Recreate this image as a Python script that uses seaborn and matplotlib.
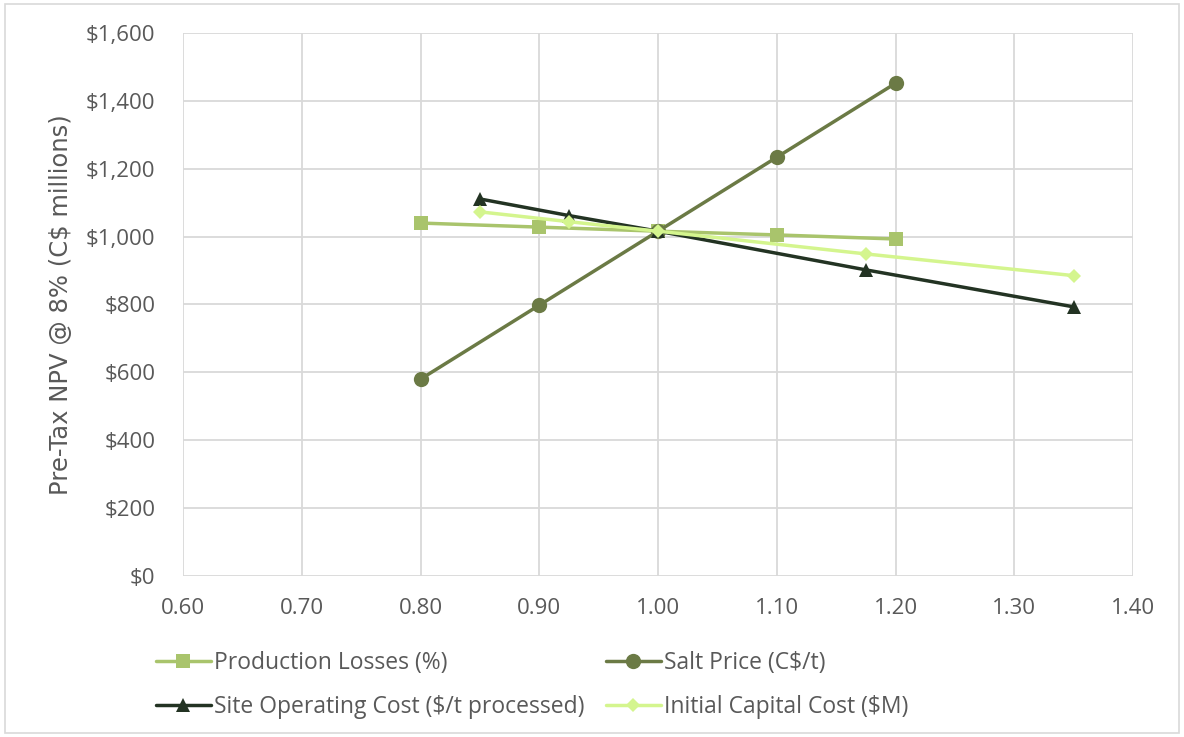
import matplotlib
matplotlib.use("Agg")
import matplotlib.pyplot as plt
import seaborn as sns
import pandas as pd
from matplotlib.ticker import FuncFormatter, MultipleLocator
from matplotlib.patches import Rectangle

# Sensitivity factors and pre-tax NPV (C$ millions) for each driver
prod_x = [0.80, 0.90, 1.00, 1.10, 1.20]
prod_y = [1040, 1028, 1016, 1005, 993]

salt_x = [0.80, 0.90, 1.00, 1.10, 1.20]
salt_y = [580, 798, 1016, 1234, 1452]

opex_x = [0.85, 0.925, 1.00, 1.175, 1.35]
opex_y = [1111, 1062, 1016, 902, 793]

capex_x = [0.85, 0.925, 1.00, 1.175, 1.35]
capex_y = [1073, 1044, 1016, 949, 885]

series_names = [
    "Production Losses (%)",
    "Salt Price (C$/t)",
    "Site Operating Cost ($/t processed)",
    "Initial Capital Cost ($M)",
]
colors = ["#a9c46c", "#6b7a45", "#233323", "#d4f58e"]
marker_styles = ["s", "o", "^", "D"]
marker_sizes = [10.5, 11, 10, 7.5]

frames = []
for name, xs, ys in zip(series_names,
                        [prod_x, salt_x, opex_x, capex_x],
                        [prod_y, salt_y, opex_y, capex_y]):
    frames.append(pd.DataFrame({"factor": xs, "npv": ys, "series": name}))
df = pd.concat(frames, ignore_index=True)

sns.set_theme(style="white")
plt.rcParams["font.family"] = ["Open Sans", "DejaVu Sans"]
text_color = "#595959"

fig = plt.figure(figsize=(11.84, 7.37), dpi=100)
ax = fig.add_axes([0.1546, 0.2185, 0.8024, 0.7367])

for name, c, m, ms in zip(series_names, colors, marker_styles, marker_sizes):
    sub = df[df["series"] == name]
    sns.lineplot(data=sub, x="factor", y="npv", ax=ax, color=c, marker=m,
                 markersize=ms, markeredgewidth=0, linewidth=2.5,
                 label=name, sort=False)

ax.set_xlim(0.6, 1.4)
ax.set_ylim(0, 1600)
ax.xaxis.set_major_locator(MultipleLocator(0.1))
ax.yaxis.set_major_locator(MultipleLocator(200))
ax.xaxis.set_major_formatter(FuncFormatter(lambda v, p: f"{v:.2f}"))
ax.yaxis.set_major_formatter(FuncFormatter(lambda v, p: f"${v:,.0f}"))
ax.grid(True, color="#d9d9d9", linewidth=1.3)
for s in ax.spines.values():
    s.set_visible(False)
ax.tick_params(axis="both", colors=text_color, labelsize=16, length=0)
ax.tick_params(axis="x", pad=16)
ax.tick_params(axis="y", pad=20)
ax.set_xlabel("")
ax.set_ylabel("Pre-Tax NPV @ 8% (C$ millions)", color=text_color,
              fontsize=17.5, family=["DejaVu Sans"], labelpad=9)

ax.get_legend().remove()
handles, labels = ax.get_legend_handles_labels()
order = [0, 2, 1, 3]
fig.legend([handles[i] for i in order], [labels[i] for i in order], ncol=2,
           loc="lower left", bbox_to_anchor=(0.114, -0.004), frameon=False,
           fontsize=16.5, labelcolor=text_color, handlelength=2.4,
           handletextpad=0.13, columnspacing=0.95, labelspacing=0.9)

fig.add_artist(Rectangle((0.004, 0.005), 0.992, 0.99, transform=fig.transFigure,
                         fill=False, edgecolor="#d9d9d9", linewidth=1.2))

fig.savefig("out.png", dpi=100, facecolor="white")
